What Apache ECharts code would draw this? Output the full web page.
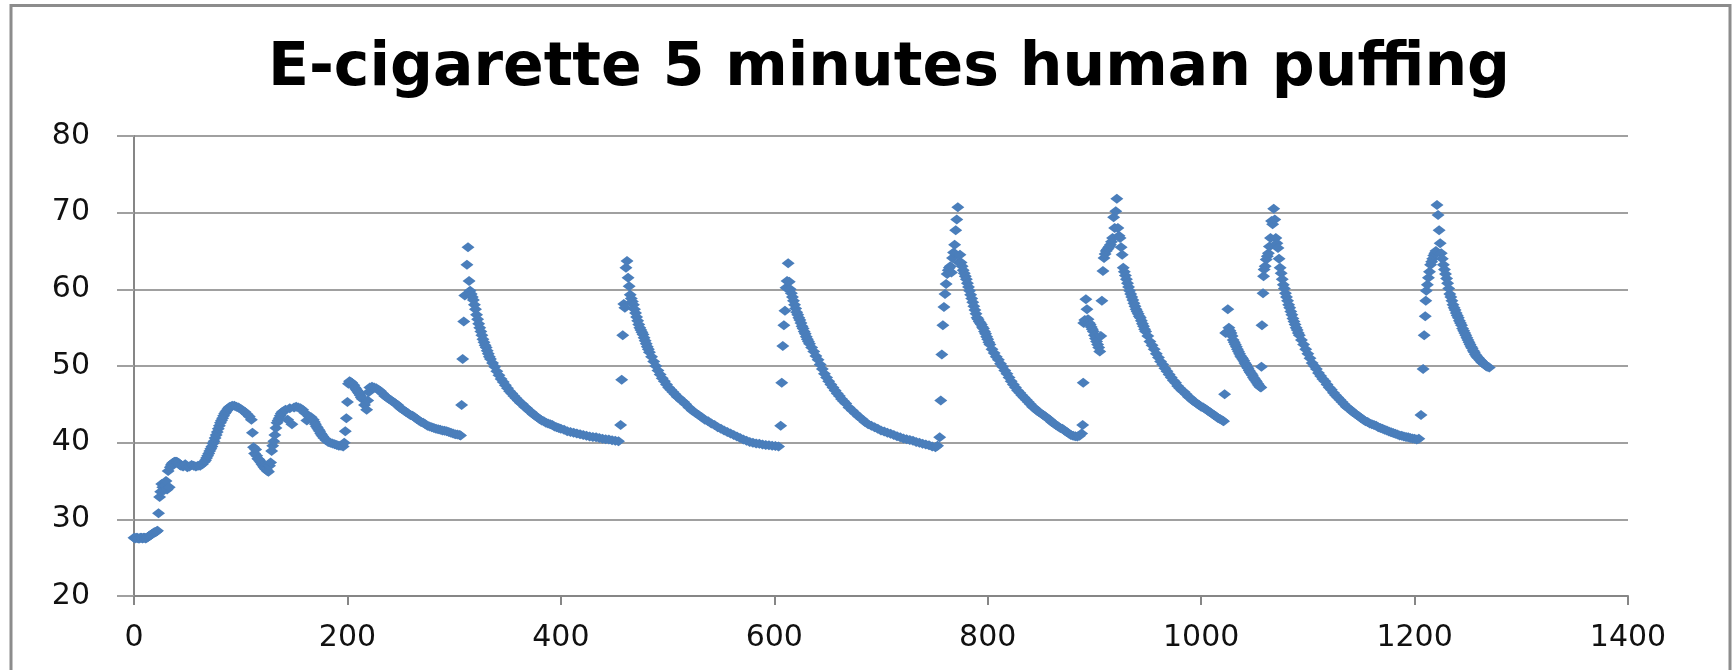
<!DOCTYPE html>
<html>
<head>
<meta charset="utf-8">
<script src="https://cdn.jsdelivr.net/npm/echarts@6/dist/echarts.min.js"></script>
<style>
html,body{margin:0;padding:0;background:#fff;}
#chart{width:1735px;height:670px;}
</style>
</head>
<body>
<div id="chart"></div>
<script>
// Title and axis ticks
const chartTitle = 'E-cigarette 5 minutes human puffing';
const xTicks = [0, 200, 400, 600, 800, 1000, 1200, 1400];
const yTicks = [20, 30, 40, 50, 60, 70, 80];

// Readings [time, value], one array per puff cycle
const puffStart = [[0,27.6],[1,27.5],[2,27.6],[3,27.6],[4,27.5],[5,27.5],[6,27.6],[7,27.6],[8,27.5],[9,27.6],[10,27.6],[11,27.5],[12,27.6],[13,27.7],[14,27.8],[15,27.9],[16,28.0],[17,28.1],[18,28.2],[19,28.3],[20,28.3],[21,28.4],[22,28.5],[23,30.8],[24,32.9],[25,33.6],[26,34.6],[27,34.2],[28,33.8],[29,34.4],[30,35.0],[31,33.9],[32,36.3],[33,34.2],[34,36.8],[35,37.1],[36,37.3],[37,37.4],[38,37.5],[39,37.5],[40,37.5],[41,37.4],[42,37.3],[43,37.1],[44,37.0],[46,36.9],[48,37.2],[50,36.8],[52,36.9],[54,37.1],[56,37.0],[58,36.9],[60,37.0],[62,37.0],[64,37.2],[66,37.5],[67,37.7],[68,38.0],[69,38.3],[70,38.6],[71,38.9],[72,39.2],[73,39.5],[74,39.9],[75,40.2],[76,40.6],[77,41.0],[78,41.4],[79,41.8],[80,42.2],[81,42.6],[82,42.9],[83,43.2],[84,43.5],[85,43.8],[86,44.0],[87,44.2],[88,44.4],[89,44.6],[90,44.7],[92,44.8],[94,44.8],[96,44.7],[98,44.6],[100,44.4],[102,44.2],[104,44.0],[106,43.7],[108,43.4],[110,43.0],[111,41.3],[112,39.4],[113,38.6],[114,39.1],[115,38.3],[116,37.9],[117,37.8],[118,37.6],[119,37.4],[120,37.2],[121,37.0],[122,36.8],[123,36.6],[124,36.5],[125,36.3],[126,36.2],[127,37.0],[128,37.4],[129,38.9],[130,39.6],[131,40.2],[132,41.0],[133,41.9],[134,42.6],[135,42.9],[136,43.2],[137,43.5],[138,43.8],[139,44.0],[140,44.1],[142,44.3],[144,43.0],[146,44.5],[148,42.4],[150,44.6],[152,44.7],[154,44.6],[156,44.5],[158,44.3],[160,43.9],[162,42.9],[164,43.4],[166,43.3],[168,43.0],[169,42.7],[170,42.4],[171,42.1],[172,41.9],[173,41.7],[174,41.5],[175,41.2],[176,41.0],[177,40.8],[178,40.6],[180,40.3],[182,40.1],[184,40.0],[186,39.9],[188,39.8],[190,39.7],[192,39.6],[194,39.6],[196,39.5],[197,40.0],[198,41.5],[199,43.2],[200,45.3],[201,47.7],[202,48.0],[203,47.9],[204,47.8],[205,47.6],[206,47.5],[207,47.2],[208,47.0],[209,46.8],[210,46.6],[211,46.4],[212,46.2],[213,45.9],[214,45.7],[216,44.9],[218,44.3],[219,45.5],[220,46.6],[221,47.2],[223,47.3],[225,47.2],[227,47.1],[229,46.9],[231,46.7],[233,46.4],[235,46.1],[237,45.9],[239,45.7],[241,45.5],[243,45.3],[245,45.1],[247,44.9],[249,44.6],[251,44.4],[253,44.2],[255,44.0],[257,43.8],[259,43.6],[261,43.5],[263,43.3],[265,43.1],[267,42.9],[269,42.7],[271,42.6],[273,42.4],[275,42.2],[277,42.1],[279,42.0],[281,41.9],[283,41.8],[285,41.75],[287,41.7],[289,41.6],[291,41.55],[293,41.5],[295,41.4],[297,41.3],[299,41.2],[301,41.1],[303,41.05],[305,41.0],[306,40.95]];

const puff1 = [[307,44.9],[308,50.9],[309,55.8],[310,59.2],[312,63.2],[313,65.5],[314,61.1],[315,59.8],[316,59.4],[317,59.0],[318,58.6],[319,58.0],[320,57.4],[321,56.7],[322,56.1],[323,55.5],[324,55.0],[325,54.5],[326,54.0],[327,53.5],[328,53.1],[329,52.7],[330,52.4],[331,52.0],[332,51.6],[333,51.2],[334,50.9],[336,50.4],[338,49.9],[340,49.3],[342,48.8],[344,48.3],[346,47.9],[348,47.5],[350,47.1],[352,46.7],[354,46.4],[356,46.1],[358,45.8],[360,45.5],[362,45.2],[364,45.0],[366,44.7],[368,44.5],[370,44.2],[372,44.0],[374,43.7],[376,43.5],[378,43.3],[380,43.1],[382,42.9],[384,42.8],[386,42.6],[388,42.5],[390,42.4],[392,42.3],[394,42.1],[396,42.0],[398,41.9],[400,41.8],[403,41.7],[406,41.5],[409,41.4],[412,41.3],[415,41.2],[418,41.1],[421,41.0],[424,40.9],[427,40.8],[430,40.75],[433,40.7],[436,40.6],[439,40.5],[442,40.45],[445,40.4],[448,40.3],[451,40.25],[454,40.2]];

const puff2 = [[456,42.3],[457,48.2],[458,54.0],[459,58.1],[460,57.6],[461,62.8],[462,63.7],[463,61.5],[464,60.4],[465,59.3],[466,58.8],[467,58.4],[468,58.0],[469,57.4],[470,56.9],[471,56.4],[472,55.9],[473,55.4],[474,55.0],[475,54.7],[476,54.4],[477,54.1],[478,53.7],[479,53.3],[480,52.9],[481,52.5],[482,52.2],[483,51.8],[485,51.2],[487,50.6],[489,50.0],[491,49.4],[493,48.9],[495,48.4],[497,48.0],[499,47.6],[501,47.2],[503,46.9],[505,46.6],[507,46.3],[509,46.0],[511,45.8],[513,45.5],[515,45.3],[517,45.0],[520,44.6],[523,44.2],[526,43.9],[529,43.6],[532,43.3],[535,43.0],[538,42.8],[541,42.5],[544,42.3],[547,42.0],[550,41.8],[553,41.6],[556,41.4],[559,41.2],[562,41.0],[565,40.8],[568,40.6],[571,40.4],[574,40.25],[577,40.1],[580,40.0],[583,39.9],[586,39.85],[589,39.75],[592,39.7],[595,39.65],[598,39.6],[601,39.55],[604,39.5]];

const puff3 = [[606,42.2],[607,47.8],[608,52.6],[609,55.3],[610,57.2],[611,60.2],[612,61.1],[613,63.4],[614,61.0],[615,60.0],[616,59.5],[617,59.0],[618,58.5],[619,58.0],[620,57.5],[621,57.0],[622,56.7],[623,56.3],[624,56.0],[625,55.6],[626,55.2],[627,54.9],[628,54.5],[629,54.2],[630,53.8],[631,53.5],[632,53.2],[633,52.9],[635,52.4],[637,51.9],[639,51.3],[641,50.8],[643,50.2],[645,49.6],[647,49.0],[649,48.5],[651,48.0],[653,47.6],[655,47.2],[657,46.8],[659,46.4],[661,46.1],[663,45.7],[665,45.4],[667,45.1],[670,44.6],[673,44.2],[676,43.8],[679,43.4],[682,43.1],[685,42.7],[688,42.4],[691,42.2],[694,42.0],[697,41.8],[700,41.6],[703,41.45],[706,41.3],[709,41.15],[712,41.0],[715,40.85],[718,40.7],[721,40.55],[724,40.45],[727,40.35],[730,40.25],[733,40.1],[736,40.0],[739,39.85],[742,39.75],[745,39.65],[748,39.5],[751,39.4]];

const puff4 = [[753,39.6],[755,40.7],[756,45.5],[757,51.5],[758,55.3],[759,57.7],[760,59.4],[761,60.7],[762,62.0],[763,62.5],[764,62.8],[765,63.0],[766,62.2],[767,64.1],[768,64.8],[769,65.8],[770,67.7],[771,69.1],[772,70.7],[773,63.5],[774,64.5],[775,63.5],[776,63.0],[777,62.5],[778,62.1],[779,61.7],[780,61.3],[781,60.8],[782,60.3],[783,59.8],[784,59.3],[785,58.8],[786,58.3],[787,57.8],[788,57.3],[789,56.8],[790,56.3],[791,56.1],[792,55.8],[793,55.6],[794,55.4],[795,55.1],[796,54.9],[797,54.5],[798,54.2],[799,53.8],[800,53.5],[801,53.1],[802,52.8],[804,52.2],[806,51.7],[808,51.2],[810,50.8],[812,50.3],[814,49.9],[816,49.4],[818,49.0],[820,48.5],[822,48.0],[824,47.6],[826,47.2],[828,46.8],[830,46.5],[832,46.2],[834,45.9],[836,45.6],[838,45.3],[840,45.0],[842,44.7],[844,44.5],[846,44.2],[848,44.0],[850,43.8],[852,43.6],[854,43.4],[856,43.2],[858,43.0],[860,42.7],[862,42.5],[864,42.3],[866,42.1],[868,41.9],[870,41.8],[872,41.6],[874,41.4],[876,41.2],[878,41.0],[880,40.9],[882,40.85],[884,40.8],[886,40.9]];

const puff5 = [[888,41.2],[889,42.3],[889.5,47.8],[890,55.6],[891,56.0],[892,58.7],[893,57.4],[894,56.1],[895,55.6],[896,55.4],[897,55.1],[898,54.8],[899,54.5],[900,54.0],[901,53.6],[902,53.2],[903,52.8],[904,52.4],[905,51.9],[906,53.9],[907,58.5],[908,62.4],[909,64.1],[910,64.6],[911,65.0],[912,65.2],[913,65.4],[914,65.6],[915,65.8],[916,66.2],[917,66.7],[918,69.4],[919,68.0],[920,70.2],[921,71.8],[922,68.0],[923,67.0],[924,66.7],[925,65.5],[926,64.5],[927,62.8],[928,62.3],[929,61.8],[930,61.3],[931,60.8],[932,60.3],[933,59.8],[934,59.4],[935,59.0],[936,58.6],[937,58.2],[938,57.8],[939,57.4],[940,57.1],[941,56.8],[942,56.5],[943,56.3],[944,55.9],[945,55.5],[946,55.2],[947,54.8],[948,54.5],[950,53.9],[952,53.2],[954,52.7],[956,52.2],[958,51.6],[960,51.1],[962,50.6],[964,50.2],[966,49.7],[968,49.3],[970,48.9],[972,48.5],[974,48.1],[976,47.8],[978,47.4],[980,47.1],[982,46.8],[984,46.6],[986,46.3],[988,46.0],[990,45.8],[992,45.5],[994,45.3],[996,45.1],[998,44.9],[1000,44.7],[1002,44.6],[1004,44.4],[1006,44.2],[1008,44.0],[1010,43.8],[1012,43.6],[1014,43.4],[1016,43.2],[1018,43.05],[1020,42.9]];

const puff6 = [[1021,42.8],[1022,46.3],[1023,54.3],[1024,54.4],[1025,57.4],[1026,55.0],[1027,54.6],[1028,54.3],[1029,53.9],[1030,53.4],[1031,53.1],[1032,52.8],[1033,52.5],[1034,52.2],[1035,51.9],[1036,51.6],[1037,51.3],[1038,51.1],[1039,50.9],[1040,50.7],[1041,50.4],[1042,50.2],[1043,49.9],[1044,49.7],[1045,49.4],[1046,49.2],[1047,49.0],[1048,48.8],[1049,48.5],[1050,48.3],[1051,48.1],[1052,47.9],[1053,47.7],[1054,47.5],[1055,47.3],[1056,47.2],[1056.5,49.9],[1057,55.3],[1058,59.5],[1058.5,61.7],[1059,62.6],[1060,63.0],[1061,63.9],[1062,64.3],[1063,64.7],[1064,65.6],[1065,66.7],[1066,68.9],[1067,68.5],[1068,70.5],[1069,69.1],[1070,66.7],[1071,66.0],[1072,65.4],[1073,64.0],[1074,62.8],[1075,62.1],[1076,61.3],[1077,60.6],[1078,60.1],[1079,59.5],[1080,59.0],[1081,58.5],[1082,58.0],[1083,57.6],[1084,57.1],[1085,56.7],[1086,56.2],[1087,55.8],[1088,55.4],[1089,55.0],[1090,54.7],[1091,54.3],[1092,54.0],[1094,53.4],[1096,52.8],[1098,52.2],[1100,51.6],[1102,51.0],[1104,50.4],[1106,50.0],[1108,49.6],[1110,49.1],[1112,48.7],[1114,48.3],[1116,48.0],[1118,47.6],[1120,47.2],[1122,46.9],[1124,46.5],[1126,46.2],[1128,45.9],[1130,45.6],[1132,45.3],[1134,45.0],[1136,44.7],[1138,44.5],[1140,44.3],[1142,44.0],[1144,43.8],[1146,43.6],[1148,43.4],[1150,43.2],[1152,43.0],[1154,42.8],[1156,42.7],[1158,42.5],[1160,42.4],[1162,42.3],[1164,42.2],[1166,42.0],[1168,41.9],[1170,41.8],[1172,41.7],[1174,41.6],[1176,41.45],[1178,41.35],[1180,41.25],[1182,41.15],[1184,41.05],[1186,40.95],[1188,40.9],[1190,40.8],[1192,40.75],[1194,40.7],[1196,40.6],[1198,40.55],[1200,40.5],[1202,40.4]];

const puff7 = [[1204,40.5],[1206,43.6],[1208,49.6],[1209,54.0],[1210,56.5],[1210.5,58.5],[1211,59.8],[1212,60.6],[1213,61.5],[1214,62.3],[1215,63.2],[1216,63.6],[1217,64.0],[1218,64.4],[1219,64.7],[1220,65.0],[1221,71.0],[1222,69.7],[1223,67.7],[1224,66.0],[1225,64.7],[1226,64.0],[1227,63.2],[1228,62.6],[1229,62.0],[1230,61.4],[1231,60.8],[1232,60.1],[1233,59.4],[1234,59.0],[1235,58.5],[1236,58.0],[1237,57.6],[1238,57.3],[1239,56.9],[1240,56.6],[1241,56.3],[1242,55.9],[1243,55.6],[1244,55.3],[1245,54.9],[1246,54.6],[1247,54.3],[1248,54.0],[1249,53.7],[1250,53.4],[1251,53.1],[1252,52.8],[1253,52.5],[1254,52.3],[1255,52.0],[1256,51.8],[1257,51.5],[1258,51.3],[1259,51.1],[1260,51.0],[1261,50.8],[1262,50.7],[1263,50.5],[1264,50.4],[1265,50.3],[1266,50.15],[1267,50.0],[1268,49.9],[1270,49.8]];

const allReadings = [].concat(puffStart, puff1, puff2, puff3, puff4, puff5, puff6, puff7);

const chart = echarts.init(document.getElementById('chart'), null, {renderer: 'canvas'});
const axisGray = '#868686';
const labelFont = 'DejaVu Sans';
chart.setOption({
  animation: false,
  backgroundColor: '#ffffff',
  title: {
    text: chartTitle,
    left: 884,
    top: 34,
    textAlign: 'center',
    textStyle: {fontFamily: 'DejaVu Sans', fontWeight: 'bold', fontSize: 60, color: '#000000'}
  },
  graphic: [{
    type: 'rect',
    silent: true,
    shape: {x: 11, y: 5.5, width: 1719, height: 700},
    style: {fill: 'none', stroke: '#8c8c8c', lineWidth: 3}
  }],
  grid: {left: 134, right: 107, top: 136, bottom: 74, containLabel: false},
  xAxis: {
    type: 'value',
    min: xTicks[0],
    max: xTicks[xTicks.length - 1],
    interval: xTicks[1] - xTicks[0],
    axisLine: {show: true, lineStyle: {color: axisGray, width: 2}},
    axisTick: {show: true, inside: false, length: 9, lineStyle: {color: axisGray, width: 2}},
    splitLine: {show: false},
    axisLabel: {color: '#111', fontFamily: labelFont, fontSize: 30, margin: 27, formatter: function (v) { return String(v); }}
  },
  yAxis: {
    type: 'value',
    min: yTicks[0],
    max: yTicks[yTicks.length - 1],
    interval: yTicks[1] - yTicks[0],
    axisLine: {show: true, onZero: false, lineStyle: {color: axisGray, width: 2}},
    axisTick: {show: true, inside: false, length: 17, lineStyle: {color: '#a0a0a0', width: 2}},
    splitLine: {show: true, lineStyle: {color: '#a0a0a0', width: 2}},
    axisLabel: {color: '#111', fontFamily: labelFont, fontSize: 30, margin: 44, formatter: function (v) { return String(v); }}
  },
  series: [{
    type: 'scatter',
    data: allReadings,
    symbol: 'diamond',
    symbolSize: [13, 10],
    itemStyle: {color: '#4A7EBB', opacity: 1},
    emphasis: {disabled: true}
  }]
});
</script>
</body>
</html>
